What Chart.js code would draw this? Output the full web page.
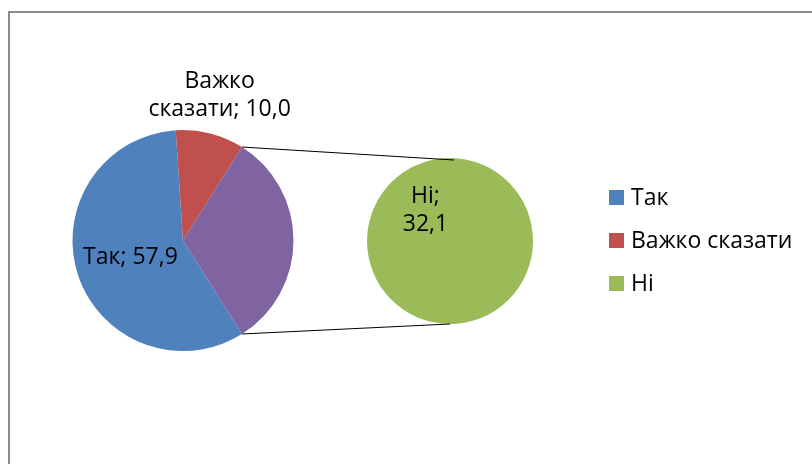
<!DOCTYPE html>
<html>
<head>
<meta charset="utf-8">
<script src="https://cdn.jsdelivr.net/npm/chart.js@4"></script>
<style>
  body { margin: 0; background: #fff; }
  #wrap { position: relative; width: 812px; height: 464px; overflow: hidden; }
  #frame { position: absolute; left: 8px; top: 11px; width: 900px; height: 600px; border: 2px solid #8c8c8c; }
  canvas { position: absolute; left: 0; top: 0; }
</style>
</head>
<body>
<div id="wrap">
  <div id="frame"></div>
  <canvas id="mainPie" width="812" height="464"></canvas>
  <canvas id="subPie" width="812" height="464"></canvas>
</div>
<script>
var categories = ["Так", "Важко сказати", "Ні"];
var values = [57.9, 10.0, 32.1];
var legendColors = ["#4F81BD", "#C0504D", "#9BBB59"];
var mainColors = ["#4F81BD", "#C0504D", "#8064A2"];

var FONT = "Open Sans";
var total = values[0] + values[1] + values[2];
// "other" slice centred at 3 o'clock, like Excel's pie of pie
var mainRotation = 90 + values[2] / total * 180;

function fmt(v) {
  return v.toFixed(1).replace(".", ",");
}

function labelAt(ctx, arc, frac, lines) {
  var mid = (arc.startAngle + arc.endAngle) / 2;
  var r = arc.outerRadius * frac;
  var x = arc.x + Math.cos(mid) * r;
  var y = arc.y + Math.sin(mid) * r;
  var lh = 28;
  ctx.save();
  ctx.fillStyle = "#000";
  ctx.font = "23px '" + FONT + "'";
  ctx.textAlign = "center";
  ctx.textBaseline = "middle";
  for (var i = 0; i < lines.length; i++) {
    ctx.fillText(lines[i], x, y + (i - (lines.length - 1) / 2) * lh);
  }
  ctx.restore();
}

var mainLabels = {
  id: "mainLabels",
  afterDatasetsDraw: function(chart) {
    var arcs = chart.getDatasetMeta(0).data;
    labelAt(chart.ctx, arcs[0], 0.5, [categories[0] + "; " + fmt(values[0])]);
    labelAt(chart.ctx, arcs[1], 1.35, ["Важко", "сказати; " + fmt(values[1])]);
  }
};

var mainChart = new Chart("mainPie", {
  type: "pie",
  data: {
    labels: [categories[0], categories[1], "Інше"],
    datasets: [{
      data: values,
      backgroundColor: mainColors,
      borderWidth: 0
    }]
  },
  options: {
    responsive: false,
    animation: false,
    rotation: mainRotation,
    layout: { padding: { left: 72, right: 518, top: 130, bottom: 113 } },
    plugins: { legend: { display: false }, tooltip: { enabled: false } }
  },
  plugins: [mainLabels]
});

var subExtras = {
  id: "subExtras",
  afterDatasetsDraw: function(chart) {
    var ctx = chart.ctx;
    var arc = chart.getDatasetMeta(0).data[0];
    var other = mainChart.getDatasetMeta(0).data[2];

    // connector lines from the "other" slice to the secondary pie
    ctx.save();
    ctx.strokeStyle = "#000";
    ctx.lineWidth = 1;
    ctx.beginPath();
    ctx.moveTo(other.x + Math.cos(other.startAngle) * other.outerRadius,
               other.y + Math.sin(other.startAngle) * other.outerRadius);
    ctx.lineTo(arc.x + 4, arc.y - arc.outerRadius + 2);
    ctx.moveTo(other.x + Math.cos(other.endAngle) * other.outerRadius,
               other.y + Math.sin(other.endAngle) * other.outerRadius);
    ctx.lineTo(arc.x, arc.y + arc.outerRadius);
    ctx.stroke();
    ctx.restore();

    labelAt(ctx, arc, 0.47, ["Ні;", fmt(values[2])]);

    // legend
    ctx.save();
    ctx.font = "23px '" + FONT + "'";
    ctx.textBaseline = "middle";
    ctx.textAlign = "left";
    for (var i = 0; i < categories.length; i++) {
      var y = 198 + i * 43;
      ctx.fillStyle = legendColors[i];
      ctx.fillRect(609, y - 8, 15, 15);
      ctx.fillStyle = "#000";
      ctx.fillText(categories[i], 631, y);
    }
    ctx.restore();
  }
};

new Chart("subPie", {
  type: "pie",
  data: {
    labels: [categories[2]],
    datasets: [{
      data: [values[2]],
      backgroundColor: [legendColors[2]],
      borderWidth: 0
    }]
  },
  options: {
    responsive: false,
    animation: false,
    rotation: 141,
    layout: { padding: { left: 367, right: 279, top: 158, bottom: 140 } },
    plugins: { legend: { display: false }, tooltip: { enabled: false } }
  },
  plugins: [subExtras]
});
</script>
</body>
</html>
